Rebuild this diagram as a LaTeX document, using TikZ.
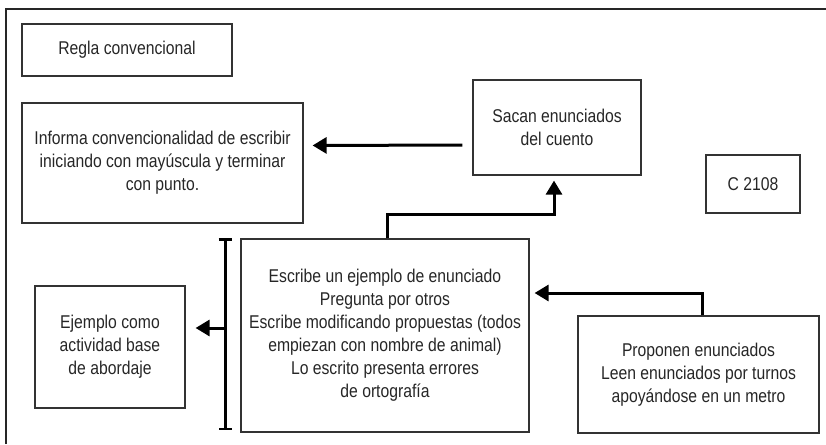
\documentclass[tikz,border=0pt]{standalone}
\usepackage{fontspec}
\setmainfont[FakeStretch=0.85]{Liberation Sans}
\usetikzlibrary{arrows.meta}
\tikzset{
  box/.style={draw=black!80, line width=1.2pt, align=center, inner sep=0pt,
    font=\fontsize{18.5}{23}\selectfont, text=black!85},
  arr/.style={draw=black, line width=3pt, -{Triangle[length=14pt,width=16pt]}},
}
\begin{document}
\begin{tikzpicture}[x=1pt,y=-1pt]
\useasboundingbox (0,0) rectangle (826,444);
\draw[black!85, line width=1.5pt] (6,444) -- (6,9) -- (826,9);

\node[box, minimum width=210pt, minimum height=52pt] (regla) at (127,50) {Regla convencional};
\node[box, minimum width=281pt, minimum height=120pt] (informa) at (162.5,163)
  {Informa convencionalidad de escribir\\iniciando con may\'uscula y terminar\\con punto.};
\node[box, minimum width=168pt, minimum height=95pt] (sacan) at (557,127.5)
  {Sacan enunciados\\del cuento};
\node[box, minimum width=94pt, minimum height=58pt] (c2108) at (753,184) {C 2108};
\node[box, minimum width=288pt, minimum height=193pt] (escribe) at (385,335.5)
  {Escribe un ejemplo de enunciado\\Pregunta por otros\\Escribe modificando propuestas (todos\\empiezan con nombre de animal)\\Lo escrito presenta errores\\de ortograf\'ia};
\node[box, minimum width=150pt, minimum height=122pt] (ejemplo) at (110,347)
  {Ejemplo como\\actividad base\\de abordaje};
\node[box, minimum width=241pt, minimum height=117pt] (proponen) at (698.5,374.5)
  {Proponen enunciados\\Leen enunciados por turnos\\apoy\'andose en un metro};

\coordinate (btop) at (225,238);
\coordinate (bbot) at (225,430);
\coordinate (bmid) at (225,328);
\draw[line width=3pt, {Bar[width=13pt,line width=2.5pt]}-{Bar[width=13pt,line width=2.5pt]}] (btop) -- (bbot);

\draw[arr, shorten <=10pt, shorten >=9pt] ([yshift=-17.5pt]sacan.west) -- ([yshift=17.5pt]informa.east);
\draw[arr, shorten >=5pt] ([xshift=2pt]escribe.north) -- ++(0,-24) -| ([xshift=-3pt]sacan.south);
\draw[arr, shorten >=5pt] ([xshift=3.5pt]proponen.north) |- ([yshift=42.5pt]escribe.east);
\draw[arr, shorten >=10pt] (bmid) -- ([yshift=19pt]ejemplo.east);
\end{tikzpicture}
\end{document}
